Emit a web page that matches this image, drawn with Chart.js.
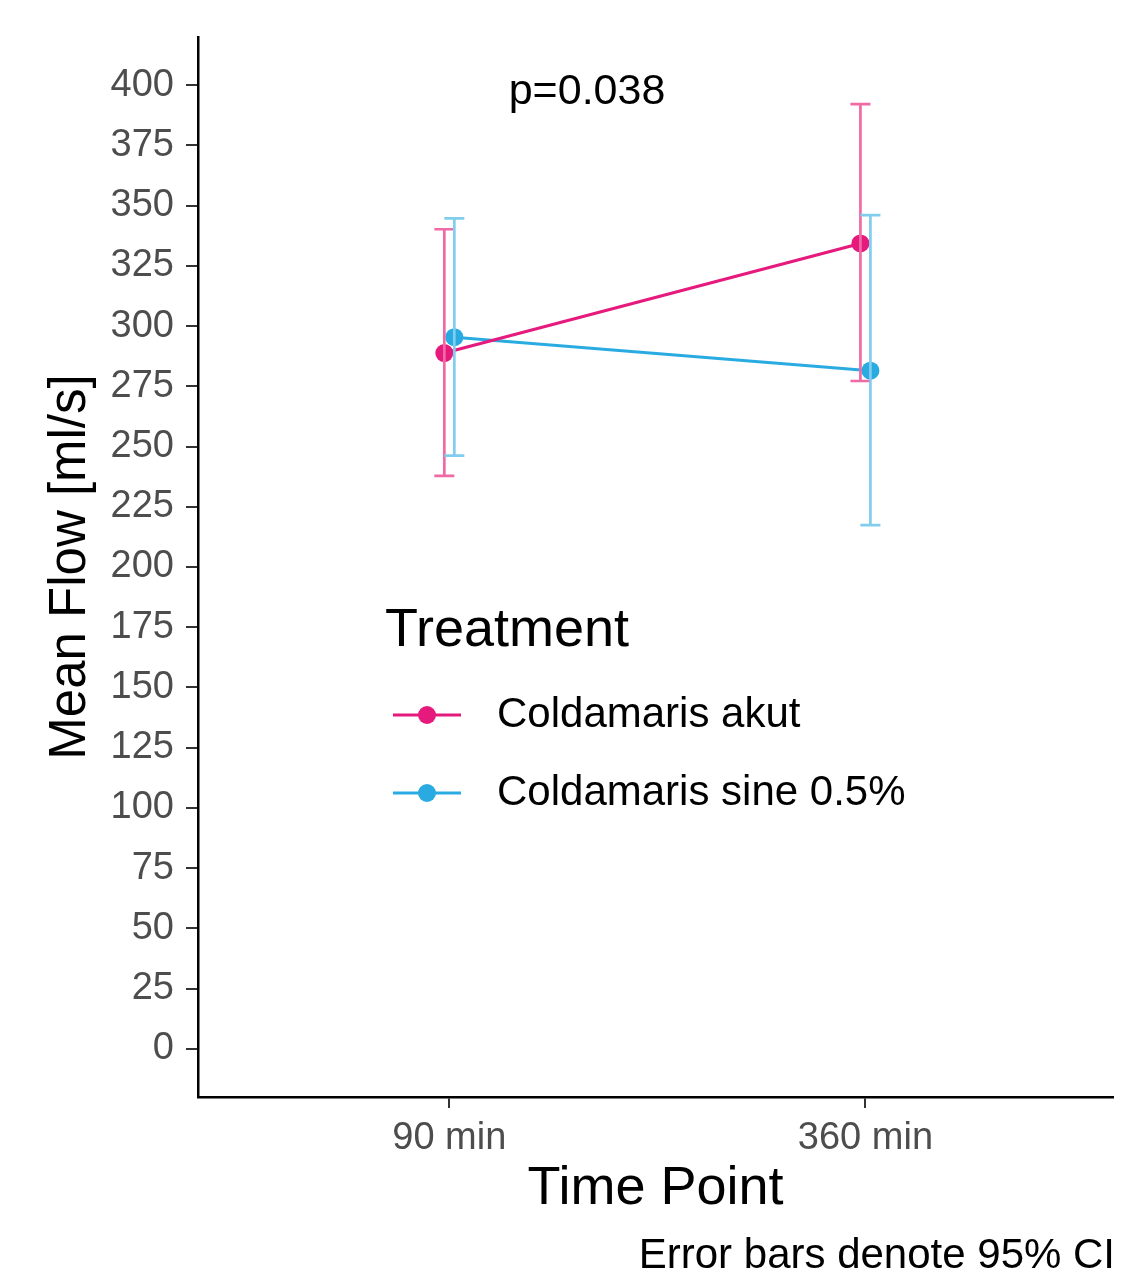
<!DOCTYPE html>
<html>
<head>
<meta charset="utf-8">
<script src="https://cdn.jsdelivr.net/npm/chart.js@4"></script>
<style>
  html, body { margin: 0; padding: 0; background: #fff; }
  #chart { display: block; }
</style>
</head>
<body>
<canvas id="chart" width="1122" height="1278"></canvas>
<script>
const timePoints = ["90 min", "360 min"];
const yTicks = [0, 25, 50, 75, 100, 125, 150, 175, 200, 225, 250, 275, 300, 325, 350, 375, 400];

const akutMean = [288.8, 334.3];
const akutLow = [237.8, 277.2];
const akutHigh = [340.2, 392.1];

const sineMean = [295.4, 281.5];
const sineLow = [246.2, 217.4];
const sineHigh = [344.7, 346.1];

const FONT = "'Liberation Sans', Arial, sans-serif";
const pink = "#e6197d";
const pinkBar = "#f06aa6";
const blue = "#29abe2";
const blueBar = "#80cdee";
const dodge = 0.012;

function pts(vals, shift) {
  return vals.map((v, i) => ({ x: i + 1 + shift, y: v }));
}

// error bars + in-panel legend + annotations
const extras = {
  id: "extras",
  afterDatasetsDraw(chart) {
    const c = chart.ctx;
    const xs = chart.scales.x, ys = chart.scales.y;
    const bars = [
      { low: akutLow, high: akutHigh, shift: -dodge, color: pinkBar },
      { low: sineLow, high: sineHigh, shift: dodge, color: blueBar }
    ];
    c.save();
    c.lineWidth = 2.7;
    bars.forEach(b => {
      c.strokeStyle = b.color;
      b.low.forEach((lo, i) => {
        const x = xs.getPixelForValue(i + 1 + b.shift);
        const y1 = ys.getPixelForValue(lo), y2 = ys.getPixelForValue(b.high[i]);
        c.beginPath();
        c.moveTo(x, y1); c.lineTo(x, y2);
        c.moveTo(x - 10, y1); c.lineTo(x + 10, y1);
        c.moveTo(x - 10, y2); c.lineTo(x + 10, y2);
        c.stroke();
      });
    });
    c.restore();
  },
  afterDraw(chart) {
    const c = chart.ctx;
    c.save();
    c.fillStyle = "#000";
    c.textBaseline = "middle";
    c.font = "43px " + FONT;
    c.textAlign = "center";
    c.fillText("p=0.038", 587, 92);

    c.textAlign = "left";
    c.font = "54px " + FONT;
    c.fillText("Treatment", 385, 631);

    const items = [["Coldamaris akut", pink, 715], ["Coldamaris sine 0.5%", blue, 793]];
    items.forEach(([label, col, y]) => {
      c.strokeStyle = col;
      c.lineWidth = 3;
      c.beginPath(); c.moveTo(393, y); c.lineTo(461, y); c.stroke();
      c.fillStyle = col;
      c.beginPath(); c.arc(427, y, 9, 0, Math.PI * 2); c.fill();
      c.fillStyle = "#000";
      c.font = "42px " + FONT;
      c.fillText(label, 497, y);
    });

    c.textAlign = "right";
    c.font = "42px " + FONT;
    c.fillText("Error bars denote 95% CI", 1115, 1256);
    c.restore();
  }
};

new Chart(document.getElementById("chart"), {
  type: "line",
  data: {
    datasets: [
      {
        label: "Coldamaris akut",
        data: pts(akutMean, -dodge),
        borderColor: pink,
        backgroundColor: pink,
        borderWidth: 3,
        pointRadius: 9,
        pointHoverRadius: 9,
        pointBorderWidth: 0
      },
      {
        label: "Coldamaris sine 0.5%",
        data: pts(sineMean, dodge),
        borderColor: blue,
        backgroundColor: blue,
        borderWidth: 3,
        pointRadius: 9,
        pointHoverRadius: 9,
        pointBorderWidth: 0
      }
    ]
  },
  options: {
    responsive: false,
    animation: false,
    layout: { padding: { left: 0, right: 7, top: 37, bottom: 0 } },
    plugins: {
      legend: { display: false },
      tooltip: { enabled: false }
    },
    scales: {
      x: {
        type: "linear",
        min: 0.396,
        max: 2.595,
        afterBuildTicks: s => { s.ticks = timePoints.map((_, i) => ({ value: i + 1 })); },
        afterFit: s => { s.height = 181; },
        ticks: {
          callback: (v) => timePoints[Math.round(v) - 1],
          color: "#4d4d4d",
          font: { family: FONT, size: 38 },
          padding: 8,
          maxRotation: 0
        },
        grid: { drawOnChartArea: false, drawTicks: true, tickLength: 11, color: "#333", lineWidth: 2 },
        border: { color: "#000", width: 2.5 },
        title: {
          display: true,
          text: "Time Point",
          color: "#000",
          font: { family: FONT, size: 54 },
          padding: { top: 8, bottom: 56 }
        }
      },
      y: {
        min: -20,
        max: 420,
        afterBuildTicks: s => { s.ticks = yTicks.map(v => ({ value: v })); },
        afterFit: s => { s.width = 198; },
        ticks: {
          color: "#4d4d4d",
          font: { family: FONT, size: 38 },
          padding: 12
        },
        grid: { drawOnChartArea: false, drawTicks: true, tickLength: 12, color: "#333", lineWidth: 2 },
        border: { color: "#000", width: 2.5 },
        title: {
          display: true,
          text: "Mean Flow [ml/s]",
          color: "#000",
          font: { family: FONT, size: 51 },
          padding: { top: 40, bottom: 0 }
        }
      }
    }
  },
  plugins: [extras]
});
</script>
</body>
</html>
